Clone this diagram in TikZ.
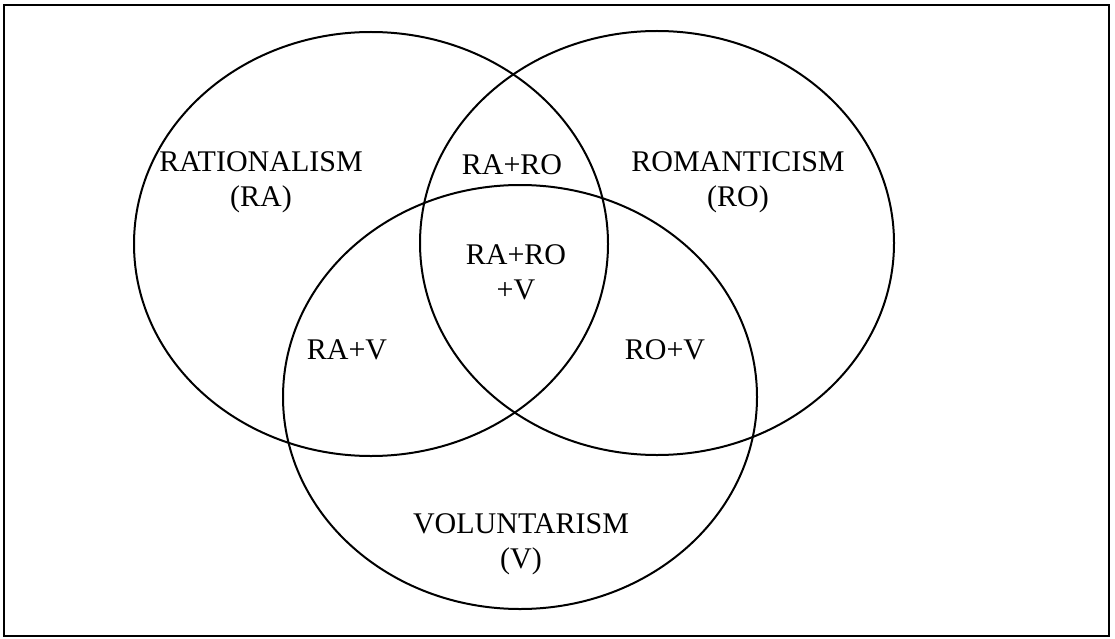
\documentclass[tikz,border=0pt]{standalone}
\usepackage{fontspec}
\setmainfont{Liberation Serif}
\usetikzlibrary{shapes.geometric}
\begin{document}
\begin{tikzpicture}[x=1pt,y=-1pt,
  setshape/.style={ellipse, draw, line width=2pt, minimum width=474pt, minimum height=424pt, inner sep=0pt},
  lbl/.style={font=\fontsize{30}{35}\selectfont, align=center, inner sep=0pt}]
\useasboundingbox (0,0) rectangle (1115,639);
\draw[line width=2.2pt] (4,5) rectangle (1109,636);
\node[setshape] (ra) at (371,244) {};
\node[setshape] (ro) at (657,243) {};
\node[setshape] (v) at (520,397) {};
\node[lbl] (tra) at (261,182) {RATIONALISM\\(RA)};
\node[lbl] (traro) at (512,165) {RA+RO};
\node[lbl] (tro) at (738,182) {ROMANTICISM\\(RO)};
\node[lbl] (tall) at (516,272) {RA+RO\\+V};
\node[lbl] (trav) at (347,350) {RA+V};
\node[lbl] (trov) at (665,350) {RO+V};
\node[lbl] (tv) at (521,544) {VOLUNTARISM\\(V)};
\end{tikzpicture}
\end{document}
